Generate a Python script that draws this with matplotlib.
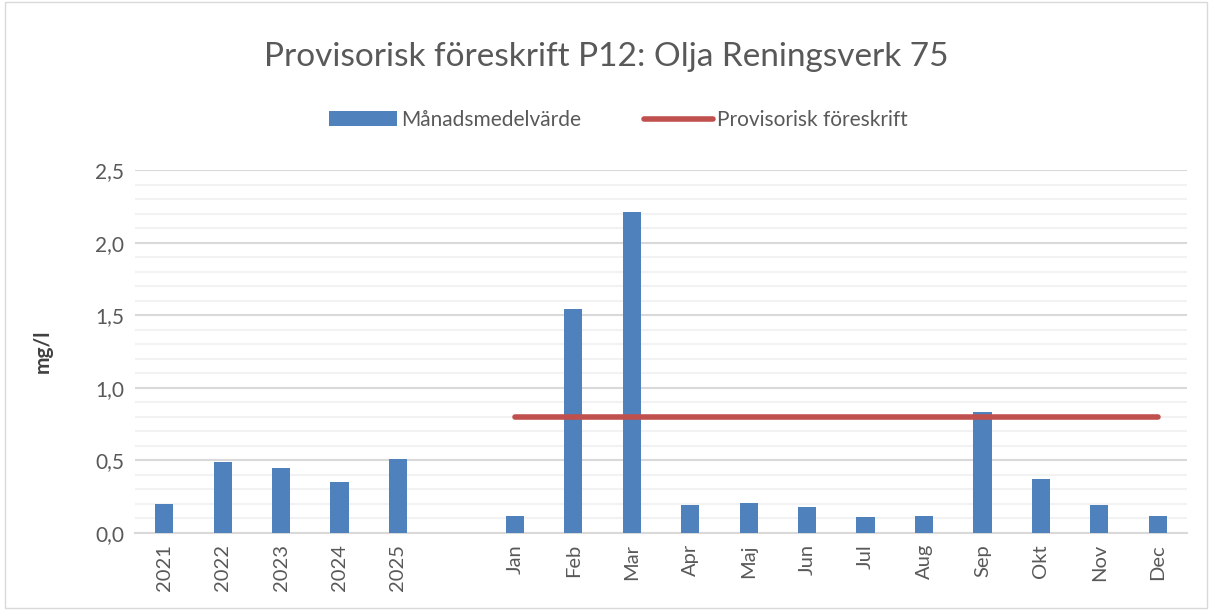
import numpy as np
import matplotlib.pyplot as plt
from matplotlib.patches import Rectangle

plt.rcParams['font.family'] = ['Lato', 'DejaVu Sans']

categories = ["2021", "2022", "2023", "2024", "2025", "",
              "Jan", "Feb", "Mar", "Apr", "Maj", "Jun",
              "Jul", "Aug", "Sep", "Okt", "Nov", "Dec"]
monthly_mean = [0.20, 0.49, 0.45, 0.35, 0.51, np.nan,
                0.12, 1.54, 2.21, 0.19, 0.21, 0.18,
                0.11, 0.12, 0.83, 0.37, 0.19, 0.12]
limit = [np.nan] * 6 + [0.8] * 12

fig = plt.figure(figsize=(12.12, 6.10), dpi=100)
ax = fig.add_axes([135 / 1212, 1 - 533 / 610, (1187 - 135) / 1212, (533 - 170) / 610])

x = np.arange(len(categories))
bars = ax.bar(x, monthly_mean, width=0.31, color="#4f81bd", label="Månadsmedelvärde", zorder=3)
line, = ax.plot(x, limit, color="#c0504d", lw=4, solid_capstyle="round",
                label="Provisorisk föreskrift", zorder=4)

ax.set_xlim(-0.5, len(categories) - 0.5)
ax.set_ylim(0, 2.5)
ax.set_xticks(x)
ax.set_xticklabels(categories, rotation=90, fontsize=14.5, color="#595959")
ax.set_yticks(np.arange(0, 2.51, 0.5))
ax.set_yticklabels([f"{v:.1f}".replace(".", ",") for v in np.arange(0, 2.51, 0.5)],
                   fontsize=15, color="#595959")
ax.set_yticks(np.arange(0, 2.51, 0.1), minor=True)
ax.tick_params(axis="both", length=0, pad=8)
ax.tick_params(axis="y", which="minor", length=0)
ax.grid(axis="y", which="major", color="#d9d9d9", lw=1.5, zorder=0)
ax.grid(axis="y", which="minor", color="#f2f2f2", lw=1.5, zorder=0)
for s in ["top", "right", "left"]:
    ax.spines[s].set_visible(False)
ax.spines["bottom"].set_color("#d9d9d9")
ax.spines["bottom"].set_linewidth(1.5)

ax.set_ylabel("mg/l", fontsize=15, color="#404040", fontweight="bold", labelpad=30)

fig.text(0.5, 1 - 57 / 610, "Provisorisk föreskrift P12: Olja Reningsverk 75",
         ha="center", va="center", fontsize=24, color="#595959")
fig.legend([bars, line], ["Månadsmedelvärde", "Provisorisk föreskrift"],
           loc="center", bbox_to_anchor=(0.51, 1 - 120 / 610), ncol=2, frameon=False,
           fontsize=15, labelcolor="#595959", handlelength=3.3, columnspacing=3,
           handletextpad=0.2)

fig.patches.append(Rectangle((0.004, 0.004), 0.992, 0.992, transform=fig.transFigure,
                             fill=False, edgecolor="#d9d9d9", lw=1))

fig.savefig("out.png", dpi=100)
